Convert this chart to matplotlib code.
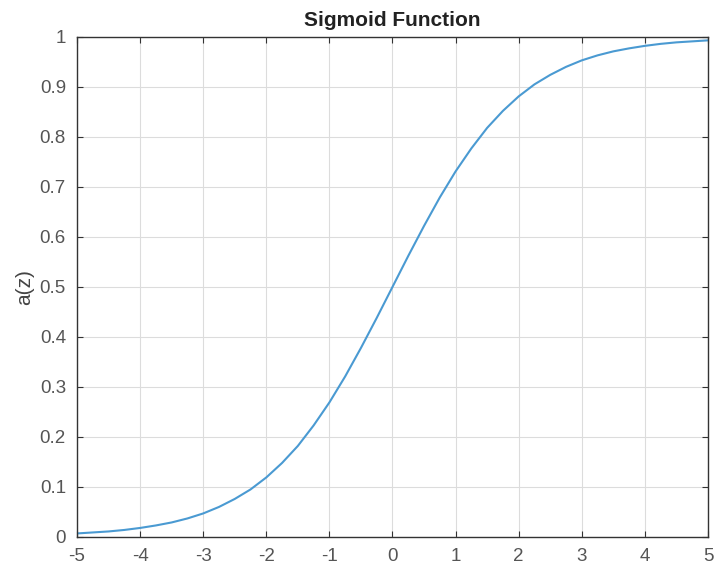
import matplotlib
matplotlib.use("Agg")
import matplotlib.pyplot as plt

# values, every 0.25 on z
z = [-5.0, -4.75, -4.5, -4.25, -4.0, -3.75, -3.5, -3.25, -3.0, -2.75, -2.5,
     -2.25, -2.0, -1.75, -1.5, -1.25, -1.0, -0.75, -0.5, -0.25, 0.0,
     0.25, 0.5, 0.75, 1.0, 1.25, 1.5, 1.75, 2.0, 2.25, 2.5,
     2.75, 3.0, 3.25, 3.5, 3.75, 4.0, 4.25, 4.5, 4.75, 5.0]
a = [0.007, 0.009, 0.011, 0.014, 0.018, 0.023, 0.029, 0.037, 0.047, 0.060, 0.076,
     0.095, 0.119, 0.148, 0.182, 0.223, 0.269, 0.321, 0.378, 0.438, 0.500,
     0.562, 0.622, 0.679, 0.731, 0.777, 0.818, 0.852, 0.881, 0.905, 0.924,
     0.940, 0.953, 0.963, 0.971, 0.977, 0.982, 0.986, 0.989, 0.991, 0.993]
xticks = [-5, -4, -3, -2, -1, 0, 1, 2, 3, 4, 5]
yticks = [0, 0.1, 0.2, 0.3, 0.4, 0.5, 0.6, 0.7, 0.8, 0.9, 1]
ytick_labels = ["0", "0.1", "0.2", "0.3", "0.4", "0.5", "0.6", "0.7", "0.8", "0.9", "1"]

plt.rcParams["font.family"] = ["Liberation Sans", "DejaVu Sans"]

fig = plt.figure(figsize=(7.15, 5.67), dpi=100)
ax = fig.add_axes([0.1077, 0.053, 0.8825, 0.882])
ax.plot(z, a, color="#4a9ad2", lw=1.5)

ax.set_xlim(-5, 5); ax.set_ylim(0, 1)
ax.set_xticks(xticks)
ax.set_xticklabels([str(v) for v in xticks])
ax.set_yticks(yticks)
ax.set_yticklabels(ytick_labels)
ax.grid(True, color="#dcdcdc", lw=0.8)
ax.set_axisbelow(True)
ax.tick_params(direction="in", length=4, width=0.8, top=True, right=True,
               labelsize=13.5, labelcolor="#555555", color="#333333")
ax.tick_params(axis="x", pad=8)
ax.tick_params(axis="y", pad=8)
for sp in ax.spines.values():
    sp.set_color("#333333"); sp.set_linewidth(1.0)
ax.set_ylabel("a(z)", fontsize=15, color="#444444", labelpad=4)
ax.set_title("Sigmoid Function", fontsize=15, fontweight="bold", color="#222222", pad=8)

fig.savefig("out.png", dpi=100)
